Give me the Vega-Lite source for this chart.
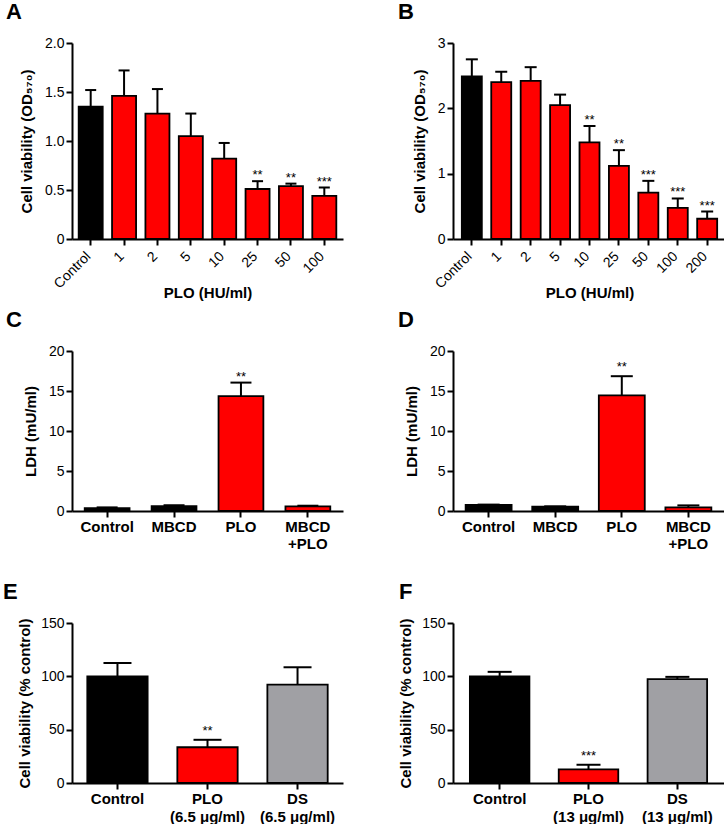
{
  "$schema": "https://vega.github.io/schema/vega-lite/v6.json",
  "background": "white",
  "padding": {"left": 3, "top": 1, "right": 0, "bottom": 0},
  "config": {
    "font": "Liberation Sans",
    "view": {"stroke": null},
    "axis": {
      "domainColor": "black", "domainWidth": 2, "tickColor": "black", "tickWidth": 2, "tickSize": 6,
      "labelColor": "black", "labelFont": "Liberation Sans", "labelFontSize": 14, "labelPadding": 2,
      "titleFont": "Liberation Sans", "titleFontSize": 15, "titleFontWeight": "bold", "titleColor": "black",
      "grid": false
    },
    "title": {"anchor": "start", "frame": "group", "fontSize": 22, "fontWeight": "bold", "font": "Liberation Sans", "color": "black", "offset": 12, "baseline": "alphabetic"}
  },
  "datasets": {
    "bars": [
      {"panel": "A", "group": "Control", "kind": "none", "value": 1.35, "upper": 1.52, "sig": ""},
      {"panel": "A", "group": "1", "kind": "PLO", "value": 1.46, "upper": 1.72, "sig": ""},
      {"panel": "A", "group": "2", "kind": "PLO", "value": 1.28, "upper": 1.53, "sig": ""},
      {"panel": "A", "group": "5", "kind": "PLO", "value": 1.05, "upper": 1.28, "sig": ""},
      {"panel": "A", "group": "10", "kind": "PLO", "value": 0.82, "upper": 0.98, "sig": ""},
      {"panel": "A", "group": "25", "kind": "PLO", "value": 0.51, "upper": 0.59, "sig": "**"},
      {"panel": "A", "group": "50", "kind": "PLO", "value": 0.54, "upper": 0.565, "sig": "**"},
      {"panel": "A", "group": "100", "kind": "PLO", "value": 0.44, "upper": 0.525, "sig": "***"},
      {"panel": "B", "group": "Control", "kind": "none", "value": 2.49, "upper": 2.75, "sig": ""},
      {"panel": "B", "group": "1", "kind": "PLO", "value": 2.40, "upper": 2.56, "sig": ""},
      {"panel": "B", "group": "2", "kind": "PLO", "value": 2.42, "upper": 2.63, "sig": ""},
      {"panel": "B", "group": "5", "kind": "PLO", "value": 2.05, "upper": 2.21, "sig": ""},
      {"panel": "B", "group": "10", "kind": "PLO", "value": 1.48, "upper": 1.73, "sig": "**"},
      {"panel": "B", "group": "25", "kind": "PLO", "value": 1.12, "upper": 1.36, "sig": "**"},
      {"panel": "B", "group": "50", "kind": "PLO", "value": 0.71, "upper": 0.89, "sig": "***"},
      {"panel": "B", "group": "100", "kind": "PLO", "value": 0.475, "upper": 0.62, "sig": "***"},
      {"panel": "B", "group": "200", "kind": "PLO", "value": 0.31, "upper": 0.42, "sig": "***"},
      {"panel": "C", "group": "Control", "kind": "none", "value": 0.35, "upper": 0.45, "sig": ""},
      {"panel": "C", "group": "MBCD", "kind": "none", "value": 0.6, "upper": 0.72, "sig": ""},
      {"panel": "C", "group": "PLO", "kind": "PLO", "value": 14.35, "upper": 16.05, "sig": "**"},
      {"panel": "C", "group": "MBCD\n+PLO", "kind": "PLO", "value": 0.58, "upper": 0.66, "sig": ""},
      {"panel": "D", "group": "Control", "kind": "none", "value": 0.75, "upper": 0.8, "sig": ""},
      {"panel": "D", "group": "MBCD", "kind": "none", "value": 0.55, "upper": 0.58, "sig": ""},
      {"panel": "D", "group": "PLO", "kind": "PLO", "value": 14.45, "upper": 16.85, "sig": "**"},
      {"panel": "D", "group": "MBCD\n+PLO", "kind": "PLO", "value": 0.45, "upper": 0.7, "sig": ""},
      {"panel": "E", "group": "Control", "kind": "none", "value": 100, "upper": 112.5, "sig": ""},
      {"panel": "E", "group": "PLO\n(6.5 μg/ml)", "kind": "PLO", "value": 33.5, "upper": 40.5, "sig": "**"},
      {"panel": "E", "group": "DS\n(6.5 μg/ml)", "kind": "DS", "value": 92.3, "upper": 108.5, "sig": ""},
      {"panel": "F", "group": "Control", "kind": "none", "value": 100, "upper": 104.2, "sig": ""},
      {"panel": "F", "group": "PLO\n(13 μg/ml)", "kind": "PLO", "value": 12.8, "upper": 17.1, "sig": "***"},
      {"panel": "F", "group": "DS\n(13 μg/ml)", "kind": "DS", "value": 97.3, "upper": 99.5, "sig": ""}
    ]
  },
  "bounds": "flush",
  "align": "each",
  "columns": 2,
  "spacing": {"row": 112, "column": 110},
  "concat": [
    {
      "title": {"text": "A", "dx": -66},
      "width": 271, "height": 196,
      "data": {"name": "bars"},
      "transform": [{"filter": "datum.panel == 'A'"}],
      "encoding": {
        "x": {"field": "group", "type": "nominal", "sort": null,
              "scale": {"paddingInner": 0.28, "paddingOuter": 0.2},
              "axis": {"title": "PLO (HU/ml)", "labelAngle": -45, "labelOffset": -7, "labelPadding": 4, "titlePadding": -5}}
      },
      "layer": [
        {"mark": {"type": "bar", "stroke": "black", "strokeWidth": 1.8},
         "encoding": {
           "y": {"field": "value", "type": "quantitative", "title": "Cell viability (OD₅₇₀)",
                 "scale": {"domain": [0, 2], "nice": false},
                 "axis": {"values": [0, 0.5, 1, 1.5, 2], "labelExpr": "datum.value == 0 ? '0' : format(datum.value, '.1f')", "titlePadding": 10}},
           "color": {"field": "kind", "type": "nominal", "scale": {"domain": ["none", "PLO", "DS"], "range": ["#000000", "#FF0000", "#A0A0A4"]}, "legend": null}
         }},
        {"mark": {"type": "rule", "color": "black", "strokeWidth": 2},
         "encoding": {"y": {"field": "value", "type": "quantitative", "title": "Cell viability (OD₅₇₀)", "axis": {"values": [0, 0.5, 1, 1.5, 2], "labelExpr": "datum.value == 0 ? '0' : format(datum.value, '.1f')", "titlePadding": 10}}, "y2": {"field": "upper"}}},
        {"mark": {"type": "tick", "color": "black", "thickness": 2, "size": 11, "opacity": 1},
         "encoding": {"y": {"field": "upper", "type": "quantitative", "title": "Cell viability (OD₅₇₀)", "axis": {"values": [0, 0.5, 1, 1.5, 2], "labelExpr": "datum.value == 0 ? '0' : format(datum.value, '.1f')", "titlePadding": 10}}}},
        {"mark": {"type": "text", "baseline": "alphabetic", "dy": -2, "fontSize": 13, "color": "black"},
         "encoding": {"y": {"field": "upper", "type": "quantitative", "title": "Cell viability (OD₅₇₀)", "axis": {"values": [0, 0.5, 1, 1.5, 2], "labelExpr": "datum.value == 0 ? '0' : format(datum.value, '.1f')", "titlePadding": 10}}, "text": {"field": "sig"}}}
      ]
    },
    {
      "title": {"text": "B", "dx": -55},
      "width": 273, "height": 196,
      "data": {"name": "bars"},
      "transform": [{"filter": "datum.panel == 'B'"}],
      "encoding": {
        "x": {"field": "group", "type": "nominal", "sort": null,
              "scale": {"paddingInner": 0.32, "paddingOuter": 0.3},
              "axis": {"title": "PLO (HU/ml)", "labelAngle": -45, "labelOffset": -7, "labelPadding": 4, "titlePadding": -5}}
      },
      "layer": [
        {"mark": {"type": "bar", "stroke": "black", "strokeWidth": 1.8},
         "encoding": {
           "y": {"field": "value", "type": "quantitative", "title": "Cell viability (OD₅₇₀)",
                 "scale": {"domain": [0, 3], "nice": false},
                 "axis": {"values": [0, 1, 2, 3], "format": "d", "titlePadding": 10}},
           "color": {"field": "kind", "type": "nominal", "scale": {"domain": ["none", "PLO", "DS"], "range": ["#000000", "#FF0000", "#A0A0A4"]}, "legend": null}
         }},
        {"mark": {"type": "rule", "color": "black", "strokeWidth": 2},
         "encoding": {"y": {"field": "value", "type": "quantitative", "title": "Cell viability (OD₅₇₀)", "axis": {"values": [0, 1, 2, 3], "format": "d", "titlePadding": 10}}, "y2": {"field": "upper"}}},
        {"mark": {"type": "tick", "color": "black", "thickness": 2, "size": 12, "opacity": 1},
         "encoding": {"y": {"field": "upper", "type": "quantitative", "title": "Cell viability (OD₅₇₀)", "axis": {"values": [0, 1, 2, 3], "format": "d", "titlePadding": 10}}}},
        {"mark": {"type": "text", "baseline": "alphabetic", "dy": -2, "fontSize": 13, "color": "black"},
         "encoding": {"y": {"field": "upper", "type": "quantitative", "title": "Cell viability (OD₅₇₀)", "axis": {"values": [0, 1, 2, 3], "format": "d", "titlePadding": 10}}, "text": {"field": "sig"}}}
      ]
    },
    {
      "title": {"text": "C", "dx": -66},
      "width": 271, "height": 160,
      "data": {"name": "bars"},
      "transform": [{"filter": "datum.panel == 'C'"}],
      "encoding": {
        "x": {"field": "group", "type": "nominal", "sort": null,
              "scale": {"paddingInner": 0.33, "paddingOuter": 0.19},
              "axis": {"title": null, "labelAngle": 0, "labelFontWeight": "bold", "labelFontSize": 15, "labelLineHeight": 17, "labelExpr": "split(datum.label, '\\n')"}}
      },
      "layer": [
        {"mark": {"type": "bar", "stroke": "black", "strokeWidth": 1.8},
         "encoding": {
           "y": {"field": "value", "type": "quantitative", "title": "LDH (mU/ml)",
                 "scale": {"domain": [0, 20], "nice": false},
                 "axis": {"values": [0, 5, 10, 15, 20], "format": "d", "labelOverlap": false, "titlePadding": 10}},
           "color": {"field": "kind", "type": "nominal", "scale": {"domain": ["none", "PLO", "DS"], "range": ["#000000", "#FF0000", "#A0A0A4"]}, "legend": null}
         }},
        {"mark": {"type": "rule", "color": "black", "strokeWidth": 2},
         "encoding": {"y": {"field": "value", "type": "quantitative", "title": "LDH (mU/ml)", "axis": {"values": [0, 5, 10, 15, 20], "format": "d", "labelOverlap": false, "titlePadding": 10}}, "y2": {"field": "upper"}}},
        {"mark": {"type": "tick", "color": "black", "thickness": 2, "size": 21, "opacity": 1},
         "encoding": {"y": {"field": "upper", "type": "quantitative", "title": "LDH (mU/ml)", "axis": {"values": [0, 5, 10, 15, 20], "format": "d", "labelOverlap": false, "titlePadding": 10}}}},
        {"mark": {"type": "text", "baseline": "alphabetic", "dy": -2, "fontSize": 13, "color": "black"},
         "encoding": {"y": {"field": "upper", "type": "quantitative", "title": "LDH (mU/ml)", "axis": {"values": [0, 5, 10, 15, 20], "format": "d", "labelOverlap": false, "titlePadding": 10}}, "text": {"field": "sig"}}}
      ]
    },
    {
      "title": {"text": "D", "dx": -55},
      "width": 271, "height": 160,
      "data": {"name": "bars"},
      "transform": [{"filter": "datum.panel == 'D'"}],
      "encoding": {
        "x": {"field": "group", "type": "nominal", "sort": null,
              "scale": {"paddingInner": 0.31, "paddingOuter": 0.19},
              "axis": {"title": null, "labelAngle": 0, "labelFontWeight": "bold", "labelFontSize": 15, "labelLineHeight": 17, "labelExpr": "split(datum.label, '\\n')"}}
      },
      "layer": [
        {"mark": {"type": "bar", "stroke": "black", "strokeWidth": 1.8},
         "encoding": {
           "y": {"field": "value", "type": "quantitative", "title": "LDH (mU/ml)",
                 "scale": {"domain": [0, 20], "nice": false},
                 "axis": {"values": [0, 5, 10, 15, 20], "format": "d", "labelOverlap": false, "titlePadding": 10}},
           "color": {"field": "kind", "type": "nominal", "scale": {"domain": ["none", "PLO", "DS"], "range": ["#000000", "#FF0000", "#A0A0A4"]}, "legend": null}
         }},
        {"mark": {"type": "rule", "color": "black", "strokeWidth": 2},
         "encoding": {"y": {"field": "value", "type": "quantitative", "title": "LDH (mU/ml)", "axis": {"values": [0, 5, 10, 15, 20], "format": "d", "labelOverlap": false, "titlePadding": 10}}, "y2": {"field": "upper"}}},
        {"mark": {"type": "tick", "color": "black", "thickness": 2, "size": 22, "opacity": 1},
         "encoding": {"y": {"field": "upper", "type": "quantitative", "title": "LDH (mU/ml)", "axis": {"values": [0, 5, 10, 15, 20], "format": "d", "labelOverlap": false, "titlePadding": 10}}}},
        {"mark": {"type": "text", "baseline": "alphabetic", "dy": -5, "fontSize": 13, "color": "black"},
         "encoding": {"y": {"field": "upper", "type": "quantitative", "title": "LDH (mU/ml)", "axis": {"values": [0, 5, 10, 15, 20], "format": "d", "labelOverlap": false, "titlePadding": 10}}, "text": {"field": "sig"}}}
      ]
    },
    {
      "title": {"text": "E", "dx": -69},
      "width": 271, "height": 160,
      "data": {"name": "bars"},
      "transform": [{"filter": "datum.panel == 'E'"}],
      "encoding": {
        "x": {"field": "group", "type": "nominal", "sort": null,
              "scale": {"paddingInner": 0.33, "paddingOuter": 0.17},
              "axis": {"title": null, "labelAngle": 0, "labelFontWeight": "bold", "labelFontSize": 15, "labelLineHeight": 18, "labelExpr": "split(datum.label, '\\n')"}}
      },
      "layer": [
        {"mark": {"type": "bar", "stroke": "black", "strokeWidth": 1.8},
         "encoding": {
           "y": {"field": "value", "type": "quantitative", "title": "Cell viability (% control)",
                 "scale": {"domain": [0, 150], "nice": false},
                 "axis": {"values": [0, 50, 100, 150], "format": "d", "titlePadding": 8}},
           "color": {"field": "kind", "type": "nominal", "scale": {"domain": ["none", "PLO", "DS"], "range": ["#000000", "#FF0000", "#A0A0A4"]}, "legend": null}
         }},
        {"mark": {"type": "rule", "color": "black", "strokeWidth": 2},
         "encoding": {"y": {"field": "value", "type": "quantitative", "title": "Cell viability (% control)", "axis": {"values": [0, 50, 100, 150], "format": "d", "titlePadding": 8}}, "y2": {"field": "upper"}}},
        {"mark": {"type": "tick", "color": "black", "thickness": 2, "size": 28, "opacity": 1},
         "encoding": {"y": {"field": "upper", "type": "quantitative", "title": "Cell viability (% control)", "axis": {"values": [0, 50, 100, 150], "format": "d", "titlePadding": 8}}}},
        {"mark": {"type": "text", "baseline": "alphabetic", "dy": -5, "fontSize": 13, "color": "black"},
         "encoding": {"y": {"field": "upper", "type": "quantitative", "title": "Cell viability (% control)", "axis": {"values": [0, 50, 100, 150], "format": "d", "titlePadding": 8}}, "text": {"field": "sig"}}}
      ]
    },
    {
      "title": {"text": "F", "dx": -54},
      "width": 271, "height": 160,
      "data": {"name": "bars"},
      "transform": [{"filter": "datum.panel == 'F'"}],
      "encoding": {
        "x": {"field": "group", "type": "nominal", "sort": null,
              "scale": {"paddingInner": 0.33, "paddingOuter": 0.19},
              "axis": {"title": null, "labelAngle": 0, "labelFontWeight": "bold", "labelFontSize": 15, "labelLineHeight": 18, "labelExpr": "split(datum.label, '\\n')"}}
      },
      "layer": [
        {"mark": {"type": "bar", "stroke": "black", "strokeWidth": 1.8},
         "encoding": {
           "y": {"field": "value", "type": "quantitative", "title": "Cell viability (% control)",
                 "scale": {"domain": [0, 150], "nice": false},
                 "axis": {"values": [0, 50, 100, 150], "format": "d", "titlePadding": 8}},
           "color": {"field": "kind", "type": "nominal", "scale": {"domain": ["none", "PLO", "DS"], "range": ["#000000", "#FF0000", "#A0A0A4"]}, "legend": null}
         }},
        {"mark": {"type": "rule", "color": "black", "strokeWidth": 2},
         "encoding": {"y": {"field": "value", "type": "quantitative", "title": "Cell viability (% control)", "axis": {"values": [0, 50, 100, 150], "format": "d", "titlePadding": 8}}, "y2": {"field": "upper"}}},
        {"mark": {"type": "tick", "color": "black", "thickness": 2, "size": 24, "opacity": 1},
         "encoding": {"y": {"field": "upper", "type": "quantitative", "title": "Cell viability (% control)", "axis": {"values": [0, 50, 100, 150], "format": "d", "titlePadding": 8}}}},
        {"mark": {"type": "text", "baseline": "alphabetic", "dy": -5, "fontSize": 13, "color": "black"},
         "encoding": {"y": {"field": "upper", "type": "quantitative", "title": "Cell viability (% control)", "axis": {"values": [0, 50, 100, 150], "format": "d", "titlePadding": 8}}, "text": {"field": "sig"}}}
      ]
    }
  ]
}
